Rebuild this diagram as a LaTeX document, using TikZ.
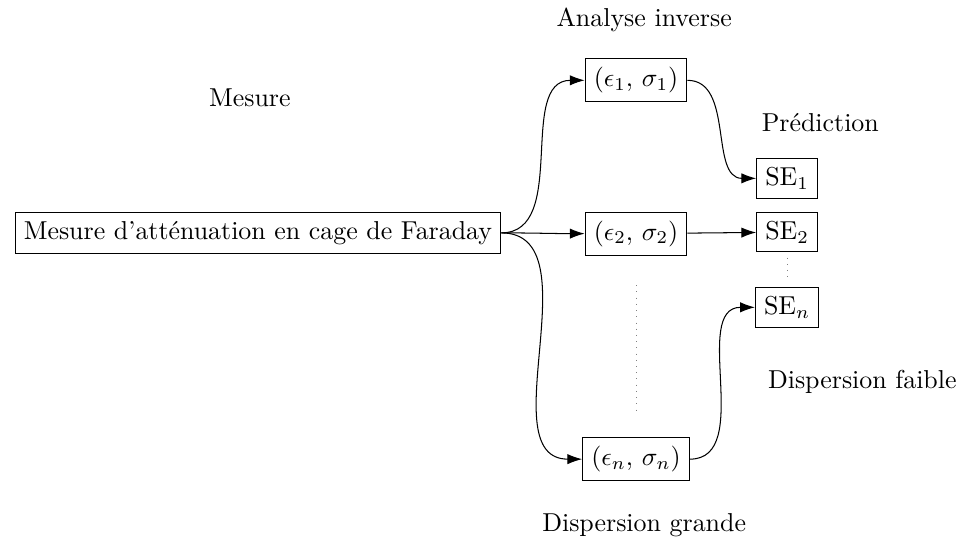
\documentclass[tikz,border=0pt]{standalone}
\usepackage{amsmath}
\usepackage{tikz}
\usetikzlibrary{calc}
\usetikzlibrary{positioning}
\usetikzlibrary{arrows.meta}

\begin{document}
\begin{tikzpicture}[every text node part/.style={align=center}, >={Latex[length=2mm,width=1.4mm]}]
    \useasboundingbox (0,0) rectangle (13.08,-7.46);

    \node[draw] (mesure) at (3.5,-3.16) {Mesure d'atténuation en cage de Faraday};
    \node (mesure label) at (3.39,-1.33) {Mesure};

    \node[draw] (param1) at (8.63,-1.09) {$(\epsilon_1,\, \sigma_1)$};
    \node[draw] (param2) at (8.63,-3.17) {$(\epsilon_2,\, \sigma_2)$};
    \node[draw] (paramn) at (8.63,-6.23) {$(\epsilon_n,\, \sigma_n)$};
    \node (analyse label) at (8.74,-0.27) {Analyse inverse};
    \node (grande label) at (8.74,-7.12) {Dispersion grande};

    \node[draw] (se1) at (10.68,-2.42) {SE$_1$};
    \node[draw] (se2) at (10.68,-3.15) {SE$_2$};
    \node[draw] (sen) at (10.68,-4.17) {SE$_n$};
    \node (prediction label) at (11.13,-1.66) {Prédiction};
    \node (faible label) at (11.70,-5.18) {Dispersion faible};

    \coordinate (param dots top) at (8.63,-3.87);
    \coordinate (param dots bottom) at (8.63,-5.60);

    \draw[->] (mesure.east) to[out=0, in=180] (param1.west);
    \draw[->] (mesure.east) to[out=0, in=180] (param2.west);
    \draw[->] (mesure.east) to[out=0, in=180] (paramn.west);

    \draw[->] (param1.east) to[out=0, in=180] (se1.west);
    \draw[->] (param2) -- (se2);
    \draw[->] (paramn.east) to[out=0, in=180] (sen.west);

    \draw[dotted, gray] (param dots top) -- (param dots bottom);
    \draw[dotted, gray, shorten <= 2pt, shorten >= 2pt] (se2) -- (sen);

\end{tikzpicture}
\end{document}
